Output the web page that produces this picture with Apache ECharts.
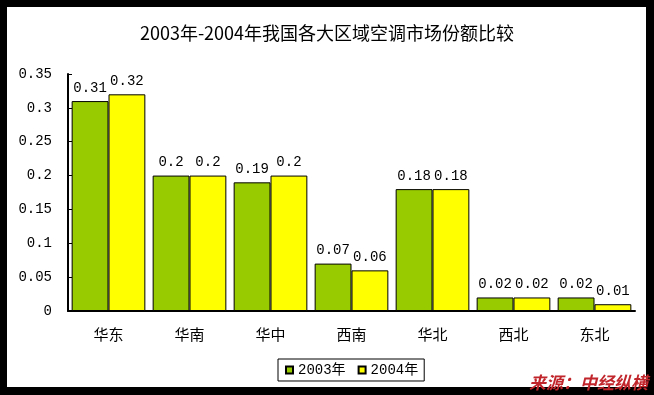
<!DOCTYPE html>
<html>
<head>
<meta charset="utf-8">
<script src="https://cdn.jsdelivr.net/npm/echarts@6/dist/echarts.min.js"></script>
<style>
html,body{margin:0;padding:0;background:#000;}
#c{width:654px;height:395px;}
</style>
</head>
<body>
<div id="c"></div>
<script>
var categories = ['华东','华南','华中','西南','华北','西北','东北'];
var seriesNames = ['2003年','2004年'];
var values2003 = [0.31, 0.2, 0.19, 0.07, 0.18, 0.02, 0.02];
var values2004 = [0.32, 0.2, 0.2, 0.06, 0.18, 0.02, 0.01];
var yTicks = {min: 0, max: 0.35, interval: 0.05};

var monoFont = "'Liberation Mono','Noto Sans CJK SC'";
var cjkFont = "'Noto Sans CJK SC'";

var chart = echarts.init(document.getElementById('c'), null, {renderer: 'canvas'});
chart.setOption({
  backgroundColor: '#000',
  animation: false,
  title: {
    text: '2003年-2004年我国各大区域空调市场份额比较',
    left: 'center',
    top: 19,
    textStyle: {fontFamily: cjkFont, fontSize: 18, fontWeight: 'normal', color: '#000'}
  },
  graphic: [
    {type: 'rect', z: -100, shape: {x: 7, y: 7, width: 639, height: 380}, style: {fill: '#fff'}},
    {type: 'text', z: 100, right: 6, top: 374,
     style: {text: '来源：中经纵横', fill: '#c0262c', font: "italic bold 17px 'Noto Sans CJK SC'",
             textShadowColor: 'rgba(0,0,0,0.35)', textShadowOffsetX: 1, textShadowOffsetY: 1, textShadowBlur: 0}}
  ],
  legend: {
    data: seriesNames,
    left: 278,
    top: 359,
    orient: 'horizontal',
    icon: 'rect',
    itemWidth: 7,
    itemHeight: 7,
    itemGap: 12,
    padding: [4, 6, 4, 7],
    borderColor: '#000',
    borderWidth: 1,
    textStyle: {fontFamily: monoFont, fontSize: 14, color: '#000'}
  },
  grid: {left: 68, right: 19, top: 74, bottom: 84, containLabel: false},
  xAxis: {
    type: 'category',
    data: categories,
    axisLine: {lineStyle: {color: '#000', width: 2}},
    axisTick: {inside: true, length: 4, lineStyle: {color: '#000'}},
    axisLabel: {fontFamily: cjkFont, fontSize: 15, color: '#000', margin: 16}
  },
  yAxis: {
    type: 'value',
    min: yTicks.min, max: yTicks.max, interval: yTicks.interval,
    axisLine: {show: true, lineStyle: {color: '#000', width: 2}},
    axisTick: {show: true, inside: true, length: 4, lineStyle: {color: '#000'}},
    splitLine: {show: false},
    axisLabel: {fontFamily: monoFont, fontSize: 14, color: '#000', margin: 16}
  },
  series: [
    {
      name: seriesNames[0], type: 'bar', data: values2003,
      barGap: '0%', barCategoryGap: '9%',
      itemStyle: {color: '#99CC00', borderColor: '#000', borderWidth: 1},
      label: {show: true, position: 'top', distance: 6, fontFamily: monoFont, fontSize: 14, color: '#000'}
    },
    {
      name: seriesNames[1], type: 'bar', data: values2004,
      barGap: '0%', barCategoryGap: '9%',
      itemStyle: {color: '#FFFF00', borderColor: '#000', borderWidth: 1},
      label: {show: true, position: 'top', distance: 6, fontFamily: monoFont, fontSize: 14, color: '#000'}
    }
  ]
});
</script>
</body>
</html>
